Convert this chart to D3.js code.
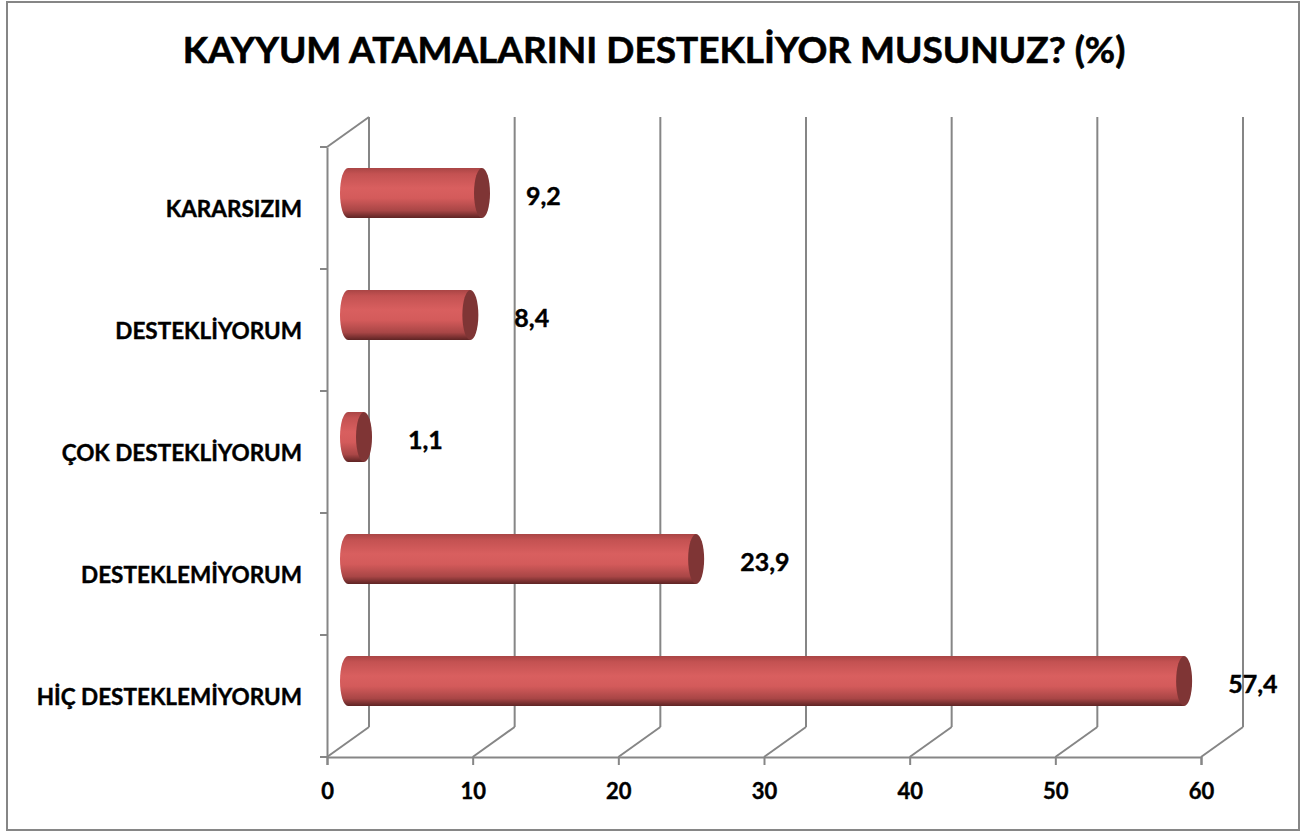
<!DOCTYPE html>
<html>
<head>
<meta charset="utf-8">
<script src="https://cdn.jsdelivr.net/npm/d3@7"></script>
<style>
  html, body { margin: 0; padding: 0; background: #fff; }
  svg { display: block; font-family: Lato, "Open Sans", sans-serif; font-weight: bold; }
</style>
</head>
<body>
<svg id="chart" width="1314" height="832"></svg>
<script>
const title = "KAYYUM ATAMALARINI DESTEKLİYOR MUSUNUZ? (%)";
const categories = ["KARARSIZIM", "DESTEKLİYORUM", "ÇOK DESTEKLİYORUM", "DESTEKLEMİYORUM", "HİÇ DESTEKLEMİYORUM"];
const values = [9.2, 8.4, 1.1, 23.9, 57.4];
const valueLabels = ["9,2", "8,4", "1,1", "23,9", "57,4"];
const xTicks = [0, 10, 20, 30, 40, 50, 60];

const svg = d3.select("#chart");
const gridColor = "#868686";
const depth = { dx: 42, dy: -30 };

const x = d3.scaleLinear().domain([0, 60]).range([327, 1201]);
const y = d3.scaleBand().domain(categories).range([147, 757]).paddingInner(0).paddingOuter(0);
const barFrac = 0.41;

// outer border
svg.append("rect").attr("x", 7).attr("y", 2).attr("width", 1292).attr("height", 828)
  .attr("fill", "#fff").attr("stroke", gridColor).attr("stroke-width", 2);

// title
svg.append("text").attr("x", 654).attr("y", 63).attr("text-anchor", "middle")
  .attr("font-size", 37).attr("fill", "#000").attr("stroke", "#000").attr("stroke-width", 0.6)
  .text(title);

const gGrid = svg.append("g").attr("stroke", gridColor).attr("stroke-width", 2).attr("fill", "none");
const yTopFront = y.range()[0], yBotFront = y.range()[1];

// back wall vertical gridlines + floor diagonals
xTicks.forEach(t => {
  const xb = x(t) + depth.dx;
  gGrid.append("line").attr("x1", xb).attr("x2", xb)
    .attr("y1", yTopFront + depth.dy).attr("y2", yBotFront + depth.dy);
  gGrid.append("line").attr("x1", xb).attr("y1", yBotFront + depth.dy)
    .attr("x2", x(t)).attr("y2", yBotFront);
});
// left wall top diagonal
gGrid.append("line").attr("x1", x(0)).attr("y1", yTopFront)
  .attr("x2", x(0) + depth.dx).attr("y2", yTopFront + depth.dy);

// front bottom axis
const xAxis = d3.axisBottom(x).tickValues(xTicks).tickSize(8).tickPadding(18).tickFormat(d3.format("d"));
const gx = svg.append("g").attr("transform", `translate(0,${yBotFront})`).call(xAxis);
gx.select(".domain").attr("stroke", gridColor).attr("stroke-width", 2);
gx.selectAll(".tick line").attr("stroke", gridColor).attr("stroke-width", 2);
gx.selectAll(".tick text").attr("font-size", 22).attr("font-family", "Lato, sans-serif")
  .attr("font-weight", "bold").attr("fill", "#000").attr("stroke", "#000").attr("stroke-width", 0.4)
  .attr("dy", "0.71em");

// left axis
const yAxis = d3.axisLeft(y).tickSize(0).tickPadding(25);
const gy = svg.append("g").attr("transform", `translate(${x(0)},0)`).call(yAxis);
gy.select(".domain").attr("stroke", gridColor).attr("stroke-width", 2);
gy.selectAll(".tick text").attr("font-size", 22.5).attr("font-family", "Lato, sans-serif")
  .attr("font-weight", "bold").attr("fill", "#000").attr("stroke", "#000").attr("stroke-width", 0.4)
  .attr("dy", "0.38em");
// category boundary ticks
const bounds = categories.map(c => y(c)).concat([yBotFront]);
gy.selectAll(".bnd").data(bounds).join("line").attr("class", "bnd")
  .attr("x1", -7).attr("x2", 0).attr("y1", d => d).attr("y2", d => d)
  .attr("stroke", gridColor).attr("stroke-width", 2);

// bar gradient
const defs = svg.append("defs");
const grad = defs.append("linearGradient").attr("id", "cyl").attr("x1", 0).attr("y1", 0).attr("x2", 0).attr("y2", 1);
[[0, "#a94545"], [0.12, "#c45252"], [0.4, "#d95f5f"], [0.6, "#d45b5b"], [0.85, "#a94646"], [1, "#5e2424"]]
  .forEach(([o, c]) => grad.append("stop").attr("offset", o).attr("stop-color", c));

const bars = svg.append("g");
const rx = 8;
categories.forEach((c, i) => {
  const v = values[i];
  const cy = y(c) + y.bandwidth() / 2 + depth.dy / 2;
  const h = y.bandwidth() * barFrac;
  const ry = h / 2;
  const x0 = x(0) + depth.dx / 2;
  const x1 = x(v) + depth.dx / 2;
  const top = cy - ry, bot = cy + ry;
  const p = d3.path();
  p.moveTo(x0, top);
  p.lineTo(x1, top);
  p.lineTo(x1, bot);
  p.lineTo(x0, bot);
  p.closePath();
  bars.append("path").attr("d", p.toString()).attr("fill", "url(#cyl)");
  // left rounded end (half ellipse)
  bars.append("path")
    .attr("d", `M${x0},${top} A${rx},${ry} 0 0 0 ${x0},${bot} Z`)
    .attr("fill", "url(#cyl)");
  // right cap
  bars.append("ellipse").attr("cx", x1).attr("cy", cy).attr("rx", rx).attr("ry", ry)
    .attr("fill", "#7f3535");
  // value label
  svg.append("text").attr("x", x1 + rx + 36).attr("y", cy + 12)
    .attr("font-size", 25).attr("fill", "#000").attr("stroke", "#000").attr("stroke-width", 0.4)
    .text(valueLabels[i]);
});
</script>
</body>
</html>
